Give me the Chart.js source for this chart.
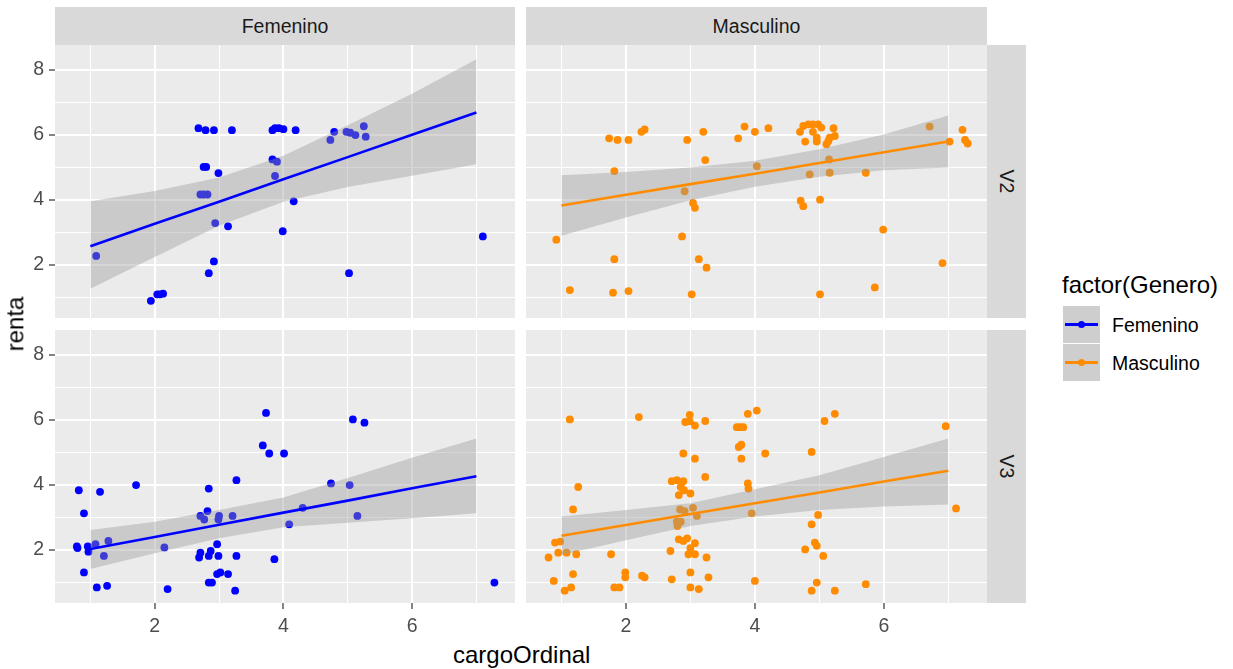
<!DOCTYPE html>
<html>
<head>
<meta charset="utf-8">
<script src="https://cdn.jsdelivr.net/npm/chart.js@4.4.1/dist/chart.umd.min.js"></script>
<style>
  body { margin: 0; background: #ffffff; font-family: "Liberation Sans", Arial, sans-serif; }
  #wrap { position: relative; width: 1233px; height: 669px; overflow: hidden; }
  canvas { position: absolute; }
  .strip { position: absolute; background: #d9d9d9; color: #1a1a1a; font-size: 19.5px;
           display: flex; align-items: center; justify-content: center; }
  .strip.side span { transform: rotate(90deg); white-space: nowrap; }
  .title { position: absolute; color: #000000; font-size: 24px; white-space: nowrap; line-height: 28px; }
  .key { position: absolute; width: 37px; height: 37px; background: #cecece; }
  .key i { position: absolute; left: 2px; top: 17px; width: 33px; height: 3px; }
  .key b { position: absolute; left: 15px; top: 15px; width: 7px; height: 7px; border-radius: 50%; }
  .label { position: absolute; color: #000000; font-size: 19.5px; line-height: 24px; white-space: nowrap; }
</style>
</head>
<body>
<div id="wrap">
  <div class="strip" style="left:55px;top:7px;width:460px;height:38px;">Femenino</div>
  <div class="strip" style="left:526px;top:7px;width:461px;height:38px;">Masculino</div>
  <div class="strip side" style="left:987px;top:45px;width:39px;height:273px;"><span>V2</span></div>
  <div class="strip side" style="left:987px;top:330px;width:39px;height:273px;"><span>V3</span></div>

  <canvas id="fem-v2" width="515" height="273" style="left:0px;top:45px;"></canvas>
  <canvas id="masc-v2" width="461" height="273" style="left:526px;top:45px;"></canvas>
  <canvas id="fem-v3" width="515" height="306" style="left:0px;top:330px;"></canvas>
  <canvas id="masc-v3" width="461" height="306" style="left:526px;top:330px;"></canvas>

  <div class="title" style="left:453px;top:641px;">cargoOrdinal</div>
  <div class="title" style="left:-12px;top:310px;transform:rotate(-90deg);">renta</div>

  <div class="title" style="left:1062px;top:271px;">factor(Genero)</div>
  <div class="key" style="left:1063px;top:306px;"><i style="background:#0000ff"></i><b style="background:#0000ff"></b></div>
  <div class="key" style="left:1063px;top:344px;"><i style="background:#ff8c00"></i><b style="background:#ff8c00"></b></div>
  <div class="label" style="left:1112px;top:313px;">Femenino</div>
  <div class="label" style="left:1112px;top:351px;">Masculino</div>
</div>
<script>
// Axis ticks and ranges
const xTicks = [1, 2, 3, 4, 5, 6, 7];
const yTicks = [1, 2, 3, 4, 5, 6, 7, 8];
const xRange = [0.45, 7.6];
const yRange = [0.37, 8.77];

// Smooth line positions (cargoOrdinal levels)
const fitX = [1, 2, 3, 4, 5, 6, 7];

// Femenino - V2
const femV2X = [1.09, 1.94, 2.04, 2.08, 2.13, 2.68, 2.79, 2.92, 3.2, 2.76, 2.8, 2.99, 2.71, 2.76, 2.82, 2.94, 3.14, 2.92, 2.84, 3.83, 3.87, 3.93, 4.0, 4.19, 3.83, 3.9, 3.87, 4.16, 3.99, 4.79, 4.73, 4.98, 5.04, 5.12, 5.25, 5.28, 5.02, 7.1];
const femV2Y = [2.28, 0.9, 1.1, 1.1, 1.12, 6.21, 6.15, 6.15, 6.15, 5.02, 5.02, 4.83, 4.17, 4.17, 4.17, 3.29, 3.19, 2.11, 1.75, 6.15, 6.21, 6.21, 6.18, 6.15, 5.25, 5.18, 4.74, 3.96, 3.04, 6.1, 5.85, 6.1, 6.07, 6.0, 6.27, 5.95, 1.75, 2.88];
const femV2Fit = [2.58, 3.27, 3.95, 4.64, 5.32, 6.01, 6.69];
const femV2Upper = [3.96, 4.28, 4.69, 5.36, 6.3, 7.27, 8.33];
const femV2Lower = [1.27, 2.25, 3.21, 3.95, 4.4, 4.75, 5.1];

// Masculino - V2
const mascV2X = [0.92, 1.13, 1.74, 1.87, 2.04, 2.24, 2.29, 1.82, 1.82, 1.8, 2.04, 2.95, 3.2, 3.23, 2.91, 3.04, 3.07, 2.87, 3.13, 3.25, 3.02, 3.74, 3.84, 4.0, 4.03, 4.21, 4.7, 4.75, 4.83, 4.9, 4.98, 5.03, 4.9, 4.96, 4.78, 4.96, 5.11, 5.16, 5.22, 5.24, 5.14, 5.15, 4.85, 5.16, 5.72, 4.71, 4.75, 5.01, 5.99, 6.91, 5.86, 5.01, 6.71, 7.02, 7.22, 7.26, 7.3];
const mascV2Y = [2.78, 1.23, 5.9, 5.85, 5.85, 6.1, 6.17, 4.89, 2.18, 1.15, 1.2, 5.85, 6.1, 5.23, 4.27, 3.91, 3.76, 2.88, 2.18, 1.92, 1.1, 5.9, 6.26, 6.1, 5.04, 6.21, 6.1, 6.28, 6.33, 6.33, 6.33, 6.23, 6.1, 5.92, 5.8, 5.8, 5.72, 5.92, 6.21, 5.97, 5.82, 5.25, 4.79, 4.84, 4.84, 3.98, 3.81, 4.01, 3.09, 2.06, 1.31, 1.1, 6.26, 5.8, 6.16, 5.85, 5.74];
const mascV2Fit = [3.83, 4.16, 4.49, 4.81, 5.14, 5.47, 5.8];
const mascV2Upper = [4.76, 4.86, 5.0, 5.21, 5.56, 6.02, 6.6];
const mascV2Lower = [2.9, 3.46, 3.99, 4.41, 4.72, 4.92, 5.0];

// Femenino - V3
const femV3X = [0.82, 1.15, 0.9, 0.79, 0.8, 0.96, 0.97, 1.08, 1.28, 1.21, 0.9, 1.1, 1.26, 1.71, 2.15, 2.2, 3.73, 3.68, 3.78, 4.01, 3.27, 2.84, 2.82, 2.71, 2.77, 3.0, 2.99, 3.21, 2.97, 2.71, 2.69, 2.84, 2.87, 2.99, 3.27, 3.86, 2.97, 3.02, 3.14, 2.84, 2.89, 3.25, 4.09, 4.3, 4.74, 5.03, 5.08, 5.26, 5.15, 7.28];
const femV3Y = [3.84, 3.79, 3.13, 2.11, 2.06, 2.11, 1.95, 2.18, 2.28, 1.82, 1.31, 0.85, 0.9, 4.0, 2.08, 0.8, 6.22, 5.22, 4.97, 4.97, 4.15, 3.89, 3.2, 3.05, 2.94, 3.05, 2.94, 3.05, 2.18, 1.92, 1.77, 1.82, 1.97, 1.82, 1.82, 1.72, 1.26, 1.31, 1.26, 1.0, 1.0, 0.75, 2.79, 3.3, 4.05, 4.0, 6.02, 5.92, 3.05, 1.0];
const femV3Fit = [2.03, 2.4, 2.78, 3.15, 3.52, 3.9, 4.27];
const femV3Upper = [2.62, 2.87, 3.23, 3.62, 4.22, 4.84, 5.43];
const femV3Lower = [1.42, 1.9, 2.36, 2.7, 2.84, 2.98, 3.13];

// Masculino - V3
const mascV3X = [1.13, 2.2, 1.26, 1.18, 0.9, 0.98, 0.8, 0.95, 1.08, 1.23, 1.18, 0.88, 1.05, 1.15, 1.77, 1.82, 1.9, 1.99, 1.99, 2.25, 2.29, 2.71, 2.69, 2.99, 2.92, 2.99, 3.07, 3.23, 2.89, 3.07, 3.23, 2.71, 2.79, 2.89, 2.85, 2.9, 2.82, 3.0, 2.84, 2.91, 3.04, 3.1, 2.79, 2.8, 2.85, 2.82, 2.95, 2.89, 3.07, 3.0, 2.97, 3.07, 3.25, 3.0, 3.28, 3.0, 3.13, 3.89, 4.03, 3.72, 3.77, 3.82, 3.75, 3.79, 3.79, 3.89, 3.9, 3.95, 4.0, 4.16, 5.08, 5.24, 4.88, 4.98, 4.88, 4.93, 4.96, 4.78, 5.06, 4.96, 4.88, 5.24, 5.72, 6.96, 7.12];
const mascV3Y = [6.02, 6.09, 3.94, 3.25, 2.23, 2.26, 1.77, 1.92, 1.92, 1.87, 1.26, 1.05, 0.75, 0.85, 1.87, 0.85, 0.85, 1.31, 1.16, 1.21, 1.16, 1.1, 1.97, 6.16, 5.94, 5.96, 5.83, 5.97, 4.97, 4.81, 4.25, 4.12, 4.15, 4.12, 3.94, 3.84, 3.69, 3.74, 3.25, 3.2, 3.3, 3.05, 2.87, 2.74, 2.87, 2.33, 2.36, 2.28, 2.21, 2.06, 1.87, 1.87, 1.77, 1.31, 1.16, 0.85, 0.8, 6.19, 6.29, 5.78, 5.78, 5.78, 5.17, 5.24, 4.81, 4.05, 3.89, 3.13, 1.05, 4.97, 5.97, 6.19, 5.02, 3.08, 2.79, 2.23, 2.13, 2.02, 1.82, 1.0, 0.75, 0.75, 0.95, 5.81, 3.28];
const mascV3Fit = [2.44, 2.77, 3.11, 3.44, 3.77, 4.11, 4.44];
const mascV3Upper = [3.03, 3.23, 3.44, 3.87, 4.3, 4.86, 5.43];
const mascV3Lower = [1.85, 2.3, 2.74, 3.03, 3.23, 3.34, 3.4];

const femColor = "#0000ff";
const mascColor = "#ff8c00";
const ribbonColor = "rgba(153, 153, 153, 0.4)";
const tickFont = { family: "'Liberation Sans', Arial, sans-serif", size: 19.5 };

// Grey panel background behind the grid
const panelBg = {
  id: "panelBg",
  beforeDraw(chart) {
    const { ctx, chartArea } = chart;
    ctx.save();
    ctx.fillStyle = "#ebebeb";
    ctx.fillRect(chartArea.left, chartArea.top, chartArea.right - chartArea.left, chartArea.bottom - chartArea.top);
    ctx.restore();
  },
};

function toPoints(xs, ys) {
  return xs.map((x, i) => ({ x: x, y: ys[i] }));
}

function isMajor(ctx) {
  return ctx.tick && ctx.tick.value % 2 === 0;
}

function makeAxis(ticks, range, showLabels, size, isX) {
  return {
    type: "linear",
    min: range[0],
    max: range[1],
    afterBuildTicks: (axis) => {
      axis.ticks = ticks.map((v) => ({ value: v }));
    },
    afterFit: (axis) => {
      if (isX) {
        axis.height = size;
      } else {
        axis.width = size;
      }
      // no extra room for end labels, the panel fills its box
      axis.paddingTop = 0;
      axis.paddingBottom = 0;
      axis.paddingLeft = 0;
      axis.paddingRight = 0;
    },
    border: { display: false },
    grid: {
      color: "#ffffff",
      lineWidth: (ctx) => (isMajor(ctx) ? 2 : 1),
      drawTicks: showLabels,
      tickLength: 6,
      tickColor: (ctx) => (isMajor(ctx) ? "#333333" : "rgba(0,0,0,0)"),
      tickWidth: 1.2,
    },
    ticks: {
      display: showLabels,
      autoSkip: false,
      maxRotation: 0,
      padding: isX ? 6 : 5,
      color: "#4d4d4d",
      font: tickFont,
      callback: (v) => (v % 2 === 0 ? v : ""),
    },
  };
}

// Build one facet panel
function makePanel(id, xs, ys, fit, upper, lower, color, showX, showY) {
  const canvas = document.getElementById(id);
  return new Chart(canvas, {
    type: "scatter",
    data: {
      datasets: [
        {
          type: "line",
          data: toPoints(fitX, fit),
          borderColor: color,
          borderWidth: 2.6,
          pointRadius: 0,
          fill: false,
          order: 0,
        },
        {
          type: "line",
          data: toPoints(fitX, upper),
          borderColor: "rgba(0,0,0,0)",
          backgroundColor: ribbonColor,
          pointRadius: 0,
          fill: "+1",
          order: 1,
        },
        {
          type: "line",
          data: toPoints(fitX, lower),
          borderColor: "rgba(0,0,0,0)",
          pointRadius: 0,
          fill: false,
          order: 1,
        },
        {
          data: toPoints(xs, ys),
          pointRadius: 3.9,
          pointBackgroundColor: color,
          pointBorderWidth: 0,
          order: 2,
        },
      ],
    },
    options: {
      responsive: false,
      animation: false,
      events: [],
      layout: { padding: 0, autoPadding: false },
      plugins: {
        legend: { display: false },
        tooltip: { enabled: false },
      },
      scales: {
        x: makeAxis(xTicks, xRange, showX, showX ? canvas.height - 273 : 0, true),
        y: makeAxis(yTicks, yRange, showY, showY ? 55 : 0, false),
      },
    },
    plugins: [panelBg],
  });
}

makePanel("fem-v2", femV2X, femV2Y, femV2Fit, femV2Upper, femV2Lower, femColor, false, true);
makePanel("masc-v2", mascV2X, mascV2Y, mascV2Fit, mascV2Upper, mascV2Lower, mascColor, false, false);
makePanel("fem-v3", femV3X, femV3Y, femV3Fit, femV3Upper, femV3Lower, femColor, true, true);
makePanel("masc-v3", mascV3X, mascV3Y, mascV3Fit, mascV3Upper, mascV3Lower, mascColor, true, false);
</script>
</body>
</html>
